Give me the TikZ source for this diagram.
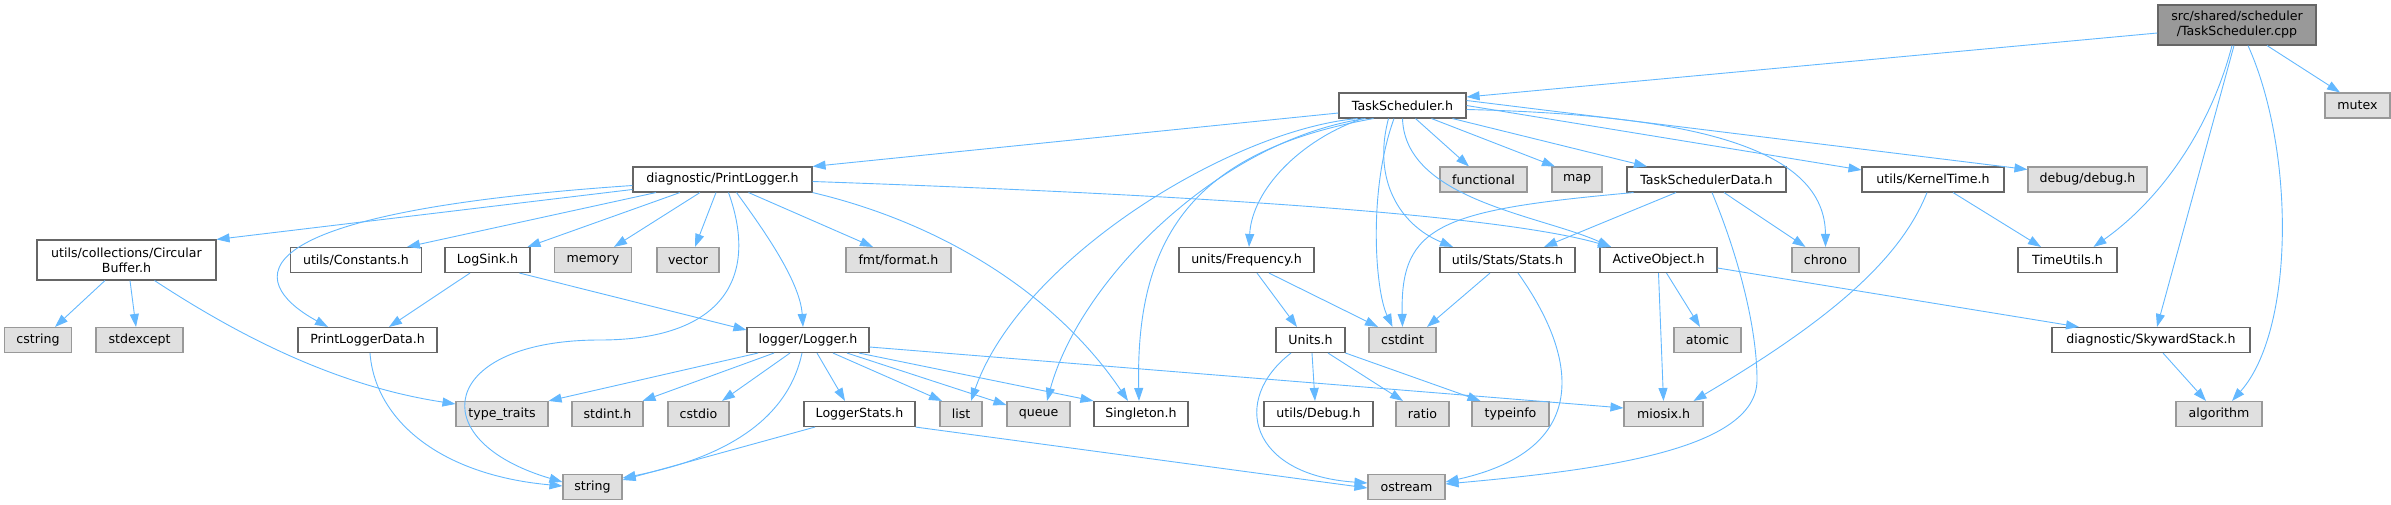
\documentclass[tikz,border=0pt]{standalone}
\usepackage{fontspec}
\setmainfont{DejaVu Sans}
\usepackage{tikz}
\usetikzlibrary{arrows.meta}

\definecolor{edgeblue}{HTML}{63B8FF}
\definecolor{boxline}{HTML}{666666}
\definecolor{sysline}{HTML}{999999}
\definecolor{sysfill}{HTML}{E0E0E0}

\begin{document}
\begin{tikzpicture}[
    x=1pt, y=-1pt,
    font=\fontsize{12.6}{15}\selectfont,
    every node/.style={rectangle, inner sep=0pt, minimum height=25pt, line width=1.1pt},
    hdr/.style={draw=boxline, fill=white},
    sys/.style={draw=sysline, fill=sysfill},
    top/.style={draw=boxline, fill=sysline, minimum height=40pt, align=center},
    dep/.style={edgeblue, line width=0.9pt, -{Triangle[length=13pt,width=9pt]}}]
\useasboundingbox (0,0) rectangle (2391,505);
% rank 0 and 1
\node (root) [top, minimum width=158] at (2237,25) {src/shared/scheduler\\/TaskScheduler.cpp};
\node (ts) [hdr, minimum width=127] at (1402.5,105.5) {TaskScheduler.h};
\node (mutex) [sys, minimum width=65] at (2357.5,105.5) {mutex};
% rank 2
\node (pl) [hdr, minimum width=179] at (722.5,179.5) {diagnostic/PrintLogger.h};
\node (functional) [sys, minimum width=87] at (1483.5,179.5) {functional};
\node (map) [sys, minimum width=50] at (1577,179.5) {map};
\node (tsd) [hdr, minimum width=159] at (1706.5,179.5) {TaskSchedulerData.h};
\node (kt) [hdr, minimum width=142] at (1933,179.5) {utils/KernelTime.h};
\node (dbg) [sys, minimum width=119] at (2087.5,179.5) {debug/debug.h};
% rank 3
\node (cb) [hdr, minimum width=179, minimum height=40pt, align=center] at (126.5,260) {utils/collections/Circular\\Buffer.h};
\node (consts) [hdr, minimum width=131] at (356,260) {utils/Constants.h};
\node (ls) [hdr, minimum width=85] at (487.5,260) {LogSink.h};
\node (memory) [sys, minimum width=77] at (593,260) {memory};
\node (vector) [sys, minimum width=62] at (688,260) {vector};
\node (fmt) [sys, minimum width=105] at (898.5,260) {fmt/format.h};
\node (freq) [hdr, minimum width=135] at (1246.5,260) {units/Frequency.h};
\node (stats) [hdr, minimum width=135] at (1507.5,260) {utils/Stats/Stats.h};
\node (ao) [hdr, minimum width=117] at (1658.5,260) {ActiveObject.h};
\node (chrono) [sys, minimum width=67] at (1825.5,260) {chrono};
\node (tu) [hdr, minimum width=99] at (2067.5,260) {TimeUtils.h};
% rank 4
\node (cstring) [sys, minimum width=67] at (38,340) {cstring};
\node (stdexcept) [sys, minimum width=87] at (139.5,340) {stdexcept};
\node (pld) [hdr, minimum width=139] at (367.5,340) {PrintLoggerData.h};
\node (lg) [hdr, minimum width=122] at (808,340) {logger/Logger.h};
\node (units) [hdr, minimum width=69] at (1310.5,340) {Units.h};
\node (cstdint) [sys, minimum width=67] at (1402.5,340) {cstdint};
\node (atomic) [sys, minimum width=67] at (1707.5,340) {atomic};
\node (ss) [hdr, minimum width=198] at (2151,340) {diagnostic/SkywardStack.h};
% rank 5
\node (tt) [sys, minimum width=92] at (502,414) {type\_traits};
\node (stdint) [sys, minimum width=71] at (607.5,414) {stdint.h};
\node (cstdio) [sys, minimum width=61] at (698.5,414) {cstdio};
\node (lst) [hdr, minimum width=111] at (859.5,414) {LoggerStats.h};
\node (list) [sys, minimum width=42] at (961,414) {list};
\node (queue) [sys, minimum width=63] at (1038.5,414) {queue};
\node (sing) [hdr, minimum width=94] at (1141,414) {Singleton.h};
\node (udbg) [hdr, minimum width=109] at (1318.5,414) {utils/Debug.h};
\node (ratio) [sys, minimum width=53] at (1422.5,414) {ratio};
\node (typeinfo) [sys, minimum width=77] at (1510.5,414) {typeinfo};
\node (miosix) [sys, minimum width=79] at (1663.5,414) {miosix.h};
\node (algorithm) [sys, minimum width=86] at (2219,414) {algorithm};
% rank 6
\node (string) [sys, minimum width=59] at (592.5,487) {string};
\node (ostream) [sys, minimum width=77] at (1406.5,487) {ostream};

% includes of the .cpp file
\draw[dep] ([yshift=-8]root.west) -- ([yshift=8.5]ts.east);
\draw[dep] ([xshift=30]root.south) -- ([xshift=-17.5]mutex.north);
\draw[dep] ([xshift=-5]root.south) .. controls (2210,130) and (2160,200) .. ([xshift=26]tu.north);
\draw[dep] ([xshift=-3]root.south) -- ([xshift=6]ss.north);
\draw[dep] ([xshift=11]root.south) .. controls (2295,150) and (2295,330) .. ([xshift=13]algorithm.north);
% TaskScheduler.h
\draw[dep] ([yshift=-7.5]ts.west) -- (pl.north east);
\draw[dep] ([xshift=-45]ts.south) .. controls (1230,130) and (1020,260) .. ([xshift=10]list.north);
\draw[dep] ([xshift=-37]ts.south) .. controls (1220,140) and (1080,280) .. ([xshift=8.5]queue.north);
\draw[dep] ([xshift=-29]ts.south) .. controls (1200,150) and (1135,230) .. ([xshift=-2]sing.north);
\draw[dep] ([xshift=-40]ts.south) .. controls (1300,140) and (1252,190) .. ([xshift=2.5]freq.north);
\draw[dep] ([xshift=-8.5]ts.south) .. controls (1368,190) and (1375,290) .. ([xshift=-10]cstdint.north);
\draw[dep] ([xshift=-14]ts.south) .. controls (1372,180) and (1400,225) .. ([xshift=-54.5]stats.north);
\draw[dep] (ts.south) .. controls (1405,200) and (1540,215) .. ([xshift=-47.5]ao.north);
\draw[dep] ([xshift=13]ts.south) -- ([xshift=-14.5]functional.north);
\draw[dep] ([xshift=29]ts.south) -- ([xshift=-22]map.north);
\draw[dep] ([xshift=50]ts.south) -- ([xshift=-59.5]tsd.north);
\draw[dep] ([yshift=-4]ts.east) .. controls (1700,115) and (1825,150) .. (chrono.north);
\draw[dep] (ts.east) -- ([yshift=9.5]kt.west);
\draw[dep] ([yshift=5]ts.east) -- ([yshift=10]dbg.west);
% diagnostic/PrintLogger.h
\draw[dep] ([yshift=-10]pl.west) -- (cb.north east);
\draw[dep] ([yshift=-6]pl.west) .. controls (200,215) and (260,290) .. ([xshift=-39.5]pld.north);
\draw[dep] ([xshift=-66.5]pl.south) -- ([xshift=51]consts.north);
\draw[dep] ([xshift=-42.5]pl.south) -- ([xshift=40]ls.north);
\draw[dep] ([xshift=-22.5]pl.south) -- ([xshift=21]memory.north);
\draw[dep] ([xshift=-6.5]pl.south) -- ([xshift=7]vector.north);
\draw[dep] ([xshift=14]pl.south) .. controls (760,225) and (800,280) .. ([xshift=-5]lg.north);
\draw[dep] ([xshift=26]pl.south) -- ([xshift=-25.5]fmt.north);
\draw[dep] (pl.south east) .. controls (950,225) and (1060,300) .. ([xshift=-13]sing.north);
\draw[dep] ([xshift=6]pl.south) .. controls (760,280) and (720,340) .. (600,340)
        .. controls (440,340) and (420,440) .. ([yshift=5]string.west);
\draw[dep] ([yshift=-2]pl.east) .. controls (1200,195) and (1500,215) .. ([xshift=-47.5]ao.north);
% LogSink.h, CircularBuffer.h, PrintLoggerData.h
\draw[dep] ([xshift=-17.5]ls.south) -- ([xshift=21.5]pld.north);
\draw[dep] ([xshift=32]ls.south) -- ([yshift=10]lg.west);
\draw[dep] ([xshift=-21.5]cb.south) -- ([xshift=17]cstring.north);
\draw[dep] ([xshift=3.5]cb.south) -- ([xshift=-3.5]stdexcept.north);
\draw[dep] ([xshift=28]cb.south) .. controls (230,330) and (330,385) .. ([yshift=10]tt.west);
\draw[dep] ([xshift=2.5]pld.south) .. controls (375,420) and (440,475) .. ([yshift=1]string.west);
% logger/Logger.h, LoggerStats.h
\draw[dep] ([xshift=-50]lg.south) -- (tt.north east);
\draw[dep] ([xshift=-34]lg.south) -- ([xshift=35]stdint.north);
\draw[dep] ([xshift=-18]lg.south) -- ([xshift=23.5]cstdio.north);
\draw[dep] ([xshift=-6]lg.south) .. controls (790,410) and (740,455) .. ([yshift=9]string.east);
\draw[dep] ([xshift=9]lg.south) -- ([xshift=-14.5]lst.north);
\draw[dep] ([xshift=25]lg.south) -- ([xshift=-19]list.north);
\draw[dep] ([xshift=39]lg.south) -- ([yshift=9]queue.west);
\draw[dep] ([xshift=51]lg.south) -- (sing.north west);
\draw[dep] ([yshift=-7]lg.east) -- ([yshift=6]miosix.west);
\draw[dep] ([xshift=-44.5]lst.south) -- ([yshift=7]string.east);
\draw[dep] (lst.south east) -- ([yshift=-1]ostream.west);
% units/Frequency.h, Units.h
\draw[dep] ([xshift=10.5]freq.south) -- ([xshift=-13.5]units.north);
\draw[dep] ([xshift=22.5]freq.south) -- ([xshift=-24.5]cstdint.north);
\draw[dep] ([xshift=1.5]units.south) -- ([xshift=-3.5]udbg.north);
\draw[dep] ([xshift=17.5]units.south) -- ([xshift=-19.5]ratio.north);
\draw[dep] (units.south east) -- ([xshift=-30]typeinfo.north);
\draw[dep] ([xshift=-19.5]units.south) .. controls (1230,400) and (1250,475) .. ([yshift=4]ostream.west);
% utils/Stats/Stats.h, TaskSchedulerData.h
\draw[dep] ([xshift=-17.5]stats.south) -- ([xshift=24.5]cstdint.north);
\draw[dep] ([xshift=10.5]stats.south) .. controls (1580,360) and (1590,450) .. ([yshift=5]ostream.east);
\draw[dep] ([xshift=-73]tsd.south) .. controls (1440,210) and (1400,225) .. (cstdint.north);
\draw[dep] ([xshift=-30.5]tsd.south) -- ([xshift=36.5]stats.north);
\draw[dep] ([xshift=5.5]tsd.south) .. controls (1740,260) and (1757,330) .. (1757,380)
        .. controls (1757,450) and (1600,470) .. ([yshift=3]ostream.east);
\draw[dep] ([xshift=17.5]tsd.south) -- ([xshift=-20]chrono.north);
% ActiveObject.h, utils/KernelTime.h, diagnostic/SkywardStack.h
\draw[dep] (ao.south) -- (miosix.north);
\draw[dep] ([xshift=8]ao.south) -- ([xshift=-7.5]atomic.north);
\draw[dep] ([yshift=-8]ao.east) -- ([xshift=-72]ss.north);
\draw[dep] ([xshift=-6]kt.south) .. controls (1900,260) and (1830,320) .. ([xshift=30]miosix.north);
\draw[dep] ([xshift=20]kt.south) -- ([xshift=-26.5]tu.north);
\draw[dep] ([xshift=12]ss.south) -- ([xshift=-13]algorithm.north);
\end{tikzpicture}
\end{document}
